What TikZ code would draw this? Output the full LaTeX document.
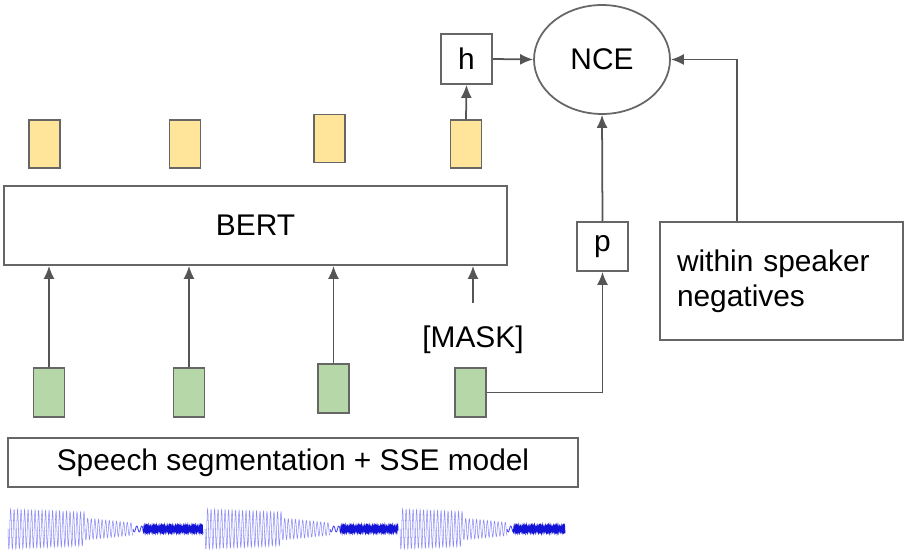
\documentclass[tikz,border=0pt]{standalone}
\usepackage{fontspec}
\setmainfont{Liberation Sans}
\usepackage{tikz}
\usetikzlibrary{arrows.meta,shapes.geometric}
\definecolor{linegray}{HTML}{666666}
\definecolor{arrowgray}{HTML}{555555}
\definecolor{tokyellow}{HTML}{FFE599}
\definecolor{tokgreen}{HTML}{B6D7A8}
\definecolor{wavelight}{HTML}{4A4AF2}
\definecolor{wavedark}{HTML}{1414D8}
\tikzstyle{box}=[rectangle, fill=white, draw=linegray, line width=1pt, inner sep=0pt, anchor=center, font=\fontsize{17}{20}\selectfont]
\tikzstyle{outtok}=[box, fill=tokyellow, minimum width=0.62cm, minimum height=0.96cm]
\tikzstyle{intok}=[box, fill=tokgreen, minimum width=0.62cm, minimum height=0.98cm]
\tikzstyle{annot}=[align=center, font=\fontsize{17}{20}\selectfont]
\tikzstyle{arr}=[draw=arrowgray, line width=1pt, -{Latex[length=0.26cm,width=0.22cm]}]
% x0, loud, medium, transition, thin
\newcommand{\drawwave}[5]
{
  \pgfmathsetmacro{\wavemid}{#1+#2}
  \pgfmathsetmacro{\wavetr}{#1+#2+#3}
  \pgfmathsetmacro{\wavethin}{#1+#2+#3+#4}
  \draw[wavelight, line width=0.3pt, opacity=0.65] plot[domain=0:#2, samples=5*#2] ({#1+\x},{529+(20-0.04*\x)*sin(103*\x)});
  \draw[wavelight, line width=0.3pt, opacity=0.65] plot[domain=0:#3, samples=5*#3] ({\wavemid+\x},{529+(11-0.1*\x)*sin(100*\x)});
  \draw[wavelight, line width=0.5pt] plot[domain=0:#4, samples=6*#4] ({\wavetr+\x},{529+3*sin(72*\x)});
  \draw[wavedark, line width=0.6pt] plot[domain=0:#5, samples=5*#5] ({\wavethin+\x},{529+(2.5+2*abs(sin(23*\x)))*sin(230*\x)});
}

\begin{document}
\begin{tikzpicture}[x=0.02cm, y=-0.02cm]
	\useasboundingbox (0,0) rectangle (908,560);

	% output tokens
	\node[outtok] (out1) at (44.5,144) {};
	\node[outtok] (out2) at (185,144) {};
	\node[outtok] (out3) at (329.5,138.5) {};
	\node[outtok] (out4) at (466,144) {};

	\node[box, minimum width=10.06cm, minimum height=1.58cm] (bert) at (255.5,225.5) {BERT};

	% input tokens
	\node[intok] (in1) at (49,392.5) {};
	\node[intok] (in2) at (189,392.5) {};
	\node[intok] (in3) at (333.5,388.5) {};
	\node[intok] (in4) at (470.5,392.5) {};
	\node[annot] (mask) at (473,340) {[MASK]};

	\node[box, minimum width=1.02cm, minimum height=1cm] (h) at (466.5,59) {h};
	\node[box, ellipse, minimum width=2.72cm, minimum height=2.18cm] (nce) at (602,59.5) {NCE};
	\node[box, minimum width=1.02cm, minimum height=0.98cm] (p) at (602.5,246.5) {p};
	\node[box, align=left, text width=4.18cm, inner xsep=0.34cm, minimum height=2.36cm] (neg) at (781.5,281) {within speaker\\negatives};

	\node[box, minimum width=11.4cm, minimum height=0.98cm] (sse) at (293,462.5) {Speech segmentation + SSE model};

	% connectors
	\foreach \i in {1,2,3}
		\draw[arr] (in\i.north) -- (in\i.north |- bert.south);
	\coordinate (maskup) at (473,303);
	\draw[arr] (maskup) -- (maskup |- bert.south);
	\draw[arr] (out4.north) -- (h.south);
	\draw[arr] (h.east) -- (nce.west);
	\draw[arr] (p.north) -- (nce.south);
	\draw[arr] (in4.east) -| (p.south);
	\coordinate (negx) at (737,0);
	\draw[arr] (neg.north -| negx) |- (nce.east);

	% waveform
	\drawwave{8}{77}{48}{10}{60}
	\drawwave{205}{77}{48}{10}{58}
	\drawwave{400}{63}{44}{6}{52}

\end{tikzpicture}
\end{document}
